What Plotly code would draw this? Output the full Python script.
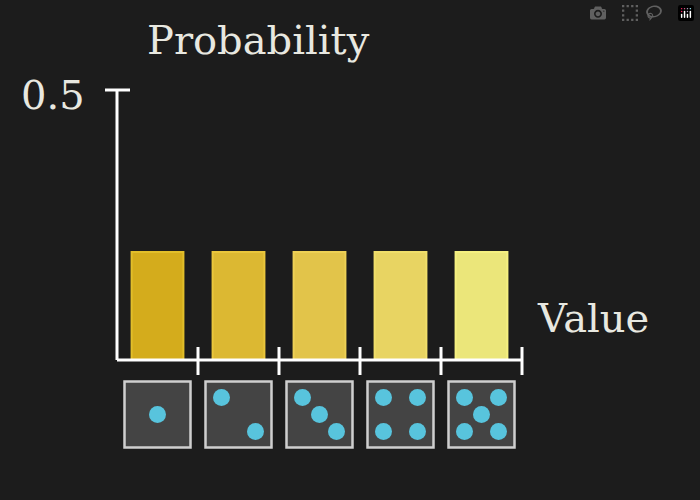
import plotly.graph_objects as go

values = [1, 2, 3, 4, 5]
probs = [0.2, 0.2, 0.2, 0.2, 0.2]
bar_colors = ["#D4AC1C", "#DCB832", "#E2C44A", "#E8D462", "#EBE67A"]
edge_colors = ["#E2BE2A", "#EAC63C", "#EDD055", "#F0DE6A", "#F5F080"]
pips = {
    1: [(0, 0)],
    2: [(-1, 1), (1, -1)],
    3: [(-1, 1), (0, 0), (1, -1)],
    4: [(-1, 1), (1, 1), (-1, -1), (1, -1)],
    5: [(-1, 1), (1, 1), (0, 0), (-1, -1), (1, -1)],
}

PX_X = 81.0   # px per x unit
PX_Y = 540.0  # px per y unit
BG = "#1C1C1C"

fig = go.Figure()
fig.add_trace(go.Bar(
    x=[v - 0.5 for v in values], y=probs, width=0.64,
    marker=dict(color=bar_colors, line=dict(color=edge_colors, width=2)),
    hoverinfo="skip"))

die_cy = -0.101
die_hw = 33 / PX_X
die_hh = 33 / PX_Y
shapes = []
px, py = [], []
for v in values:
    cx = v - 0.5
    shapes.append(dict(type="rect", layer="below", x0=cx - die_hw, x1=cx + die_hw,
                       y0=die_cy - die_hh, y1=die_cy + die_hh,
                       fillcolor="#444444", line=dict(color="#CFCFCF", width=2.5)))
    for dx, dy in pips[v]:
        px.append(cx + dx * 17 / PX_X)
        py.append(die_cy + dy * 17 / PX_Y)
fig.add_trace(go.Scatter(x=px, y=py, mode="markers",
                         marker=dict(color="#58C4DD", size=17), hoverinfo="skip"))

axis = dict(color="#FFFFFF", width=3)
shapes.append(dict(type="line", x0=0, x1=5, y0=0, y1=0, line=axis))
shapes.append(dict(type="line", x0=0, x1=0, y0=0, y1=0.5, line=axis))
shapes.append(dict(type="line", x0=-12 / PX_X, x1=13 / PX_X, y0=0.5, y1=0.5, line=axis))
for v in values:
    shapes.append(dict(type="line", x0=v, x1=v, y0=-15 / PX_Y, y1=13 / PX_Y, line=axis))

font = dict(family="DejaVu Serif", color="#E8E8E0")
fig.update_layout(
    width=700, height=500, showlegend=False,
    paper_bgcolor=BG, plot_bgcolor=BG,
    margin=dict(l=0, r=0, t=0, b=0),
    xaxis=dict(range=[-117 / PX_X, 583 / PX_X], visible=False, fixedrange=True),
    yaxis=dict(range=[-140 / PX_Y, 360 / PX_Y], visible=False, fixedrange=True),
    shapes=shapes,
    annotations=[
        dict(x=-30 / PX_X, y=0.5 - 5 / PX_Y, text="0.5", showarrow=False,
             xanchor="right", font=dict(size=40, **font)),
        dict(x=141 / PX_X, y=0.5 + 50 / PX_Y, text="Probability", showarrow=False,
             font=dict(size=40, **font)),
        dict(x=476 / PX_X, y=42 / PX_Y, text="Value", showarrow=False,
             font=dict(size=40, **font)),
    ],
)
fig.write_html("out.html", post_script="document.body.style.margin='0';")
